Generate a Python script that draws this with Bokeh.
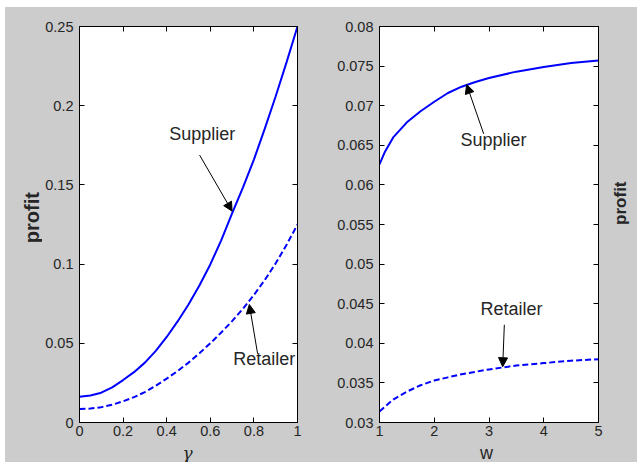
import math

from bokeh.embed import file_html
from bokeh.layouts import column, row
from bokeh.models import (Arrow, CustomJSTickFormatter, FixedTicker, Label,
                          LinearAxis, NormalHead, NumeralTickFormatter,
                          Range1d)
from bokeh.plotting import figure
from bokeh.resources import INLINE

# ---- profit as a function of gamma (left panel) ----
gamma = [0.00, 0.05, 0.10, 0.15, 0.20, 0.25, 0.30, 0.35, 0.40, 0.45, 0.50,
         0.55, 0.60, 0.65, 0.70, 0.75, 0.80, 0.85, 0.90, 0.95, 1.00]
supplier_gamma = [0.0162, 0.0170, 0.0188, 0.0222, 0.0268, 0.0318, 0.0378,
                  0.0452, 0.0540, 0.0638, 0.0745, 0.0865, 0.0998, 0.1150,
                  0.1320, 0.1485, 0.1660, 0.1855, 0.2060, 0.2275, 0.2500]
retailer_gamma = [0.0085, 0.0088, 0.0097, 0.0112, 0.0134, 0.0160, 0.0192,
                  0.0232, 0.0277, 0.0325, 0.0378, 0.0437, 0.0500, 0.0568,
                  0.0640, 0.0718, 0.0805, 0.0900, 0.1005, 0.1122, 0.1250]

# ---- profit as a function of w (right panel) ----
w = [1.0, 1.1, 1.25, 1.5, 1.75, 2.0, 2.25, 2.5, 2.75, 3.0, 3.5, 4.0, 4.5, 5.0]
supplier_w = [0.0626, 0.0642, 0.0660, 0.0679, 0.0693, 0.0705, 0.0716,
              0.0724, 0.0730, 0.0735, 0.0743, 0.0749, 0.0754, 0.0757]
retailer_w = [0.0314, 0.0320, 0.0329, 0.0339, 0.0347, 0.0353, 0.0357,
              0.0361, 0.0364, 0.0367, 0.0372, 0.0375, 0.0378, 0.0380]

gamma_ticks = [0, 0.2, 0.4, 0.6, 0.8, 1.0]
gamma_profit_ticks = [0, 0.05, 0.1, 0.15, 0.2, 0.25]
w_ticks = [1, 2, 3, 4, 5]
w_profit_ticks = [0.03, 0.035, 0.04, 0.045, 0.05, 0.055, 0.06, 0.065, 0.07,
                  0.075, 0.08]

GRAY = "#cccccc"
BLUE = "#0000ff"
INK = "#262626"
FONT = "Liberation Sans"
TICK_SIZE = "14.5px"
PANEL_H = 437
STRIP_H = 462 - 7 - PANEL_H
GRAY_BG = {"background-color": GRAY}


def style_axis(ax, ticks, show_labels, standoff):
    ax.ticker = FixedTicker(ticks=ticks)
    ax.major_tick_in = 5
    ax.major_tick_out = 0
    ax.minor_tick_line_color = None
    ax.axis_line_color = "black"
    ax.major_tick_line_color = "black"
    ax.major_label_standoff = standoff
    ax.major_label_text_font = FONT
    if show_labels:
        ax.formatter = NumeralTickFormatter(format="0.[000]")
        ax.major_label_text_color = INK
        ax.major_label_text_font_size = TICK_SIZE
    else:
        # tick marks only, no numbers on the top and right edges
        ax.formatter = CustomJSTickFormatter(code="return ''")
        ax.major_label_text_color = None


def make_panel(width, border_left, border_right, x_range, y_range,
               x_ticks, y_ticks):
    p = figure(width=width, height=PANEL_H, title=None,
               x_range=Range1d(*x_range), y_range=Range1d(*y_range),
               output_backend="svg", toolbar_location=None,
               min_border_left=border_left, min_border_right=border_right,
               min_border_top=19, min_border_bottom=PANEL_H - 19 - 396,
               border_fill_color=GRAY, background_fill_color="white",
               outline_line_color="black", styles=GRAY_BG)
    p.grid.visible = False
    style_axis(p.below[0], x_ticks, True, 3)
    style_axis(p.left[0], y_ticks, True, 6)
    top = LinearAxis()
    style_axis(top, x_ticks, False, 0)
    p.add_layout(top, "above")
    right = LinearAxis()
    style_axis(right, y_ticks, False, 0)
    p.add_layout(right, "right")
    return p


def make_strip(width, height):
    # plain grey area whose frame is the whole strip; holds an axis title
    s = figure(width=width, height=height, title=None,
               x_range=Range1d(0, width), y_range=Range1d(0, height),
               output_backend="svg", toolbar_location=None,
               x_axis_location=None, y_axis_location=None, min_border=0,
               border_fill_color=GRAY, background_fill_color=GRAY,
               outline_line_color=None, styles=GRAY_BG)
    s.grid.visible = False
    return s


def add_text(p, x, y, text, size, angle=0.0, baseline="alphabetic",
             font=FONT, style="normal"):
    p.add_layout(Label(x=x, y=y, text=text, angle=angle,
                       text_align="center", text_baseline=baseline,
                       text_font=font, text_font_size=size,
                       text_font_style=style, text_color=INK))


def add_arrow(p, x0, y0, x1, y1):
    head = NormalHead(size=9, fill_color="black", line_color="black",
                      line_width=1)
    p.add_layout(Arrow(end=head, x_start=x0, y_start=y0, x_end=x1, y_end=y1,
                       line_color="black", line_width=1))


# ---- left panel: profit vs gamma ----
left = make_panel(278, 35, 23, (0, 1), (0, 0.25),
                  gamma_ticks, gamma_profit_ticks)
left.line(gamma, supplier_gamma, line_color=BLUE, line_width=2)
left.line(gamma, retailer_gamma, line_color=BLUE, line_width=2,
          line_dash="6 3")
add_text(left, 0.563, 0.1824, "Supplier", "18px")
add_arrow(left, 0.551, 0.1688, 0.700, 0.1334)
add_text(left, 0.847, 0.0398, "Retailer", "18px")
add_arrow(left, 0.817, 0.0434, 0.779, 0.0745)

# ---- right panel: profit vs w ----
right = make_panel(288, 59, 10, (1, 5), (0.03, 0.08),
                   w_ticks, w_profit_ticks)
right.line(w, supplier_w, line_color=BLUE, line_width=2)
right.line(w, retailer_w, line_color=BLUE, line_width=2, line_dash="6 3")
add_text(right, 3.082, 0.06563, "Supplier", "18px")
add_arrow(right, 2.903, 0.06644, 2.592, 0.07267)
add_text(right, 3.411, 0.04436, "Retailer", "18px")
add_arrow(right, 3.280, 0.04234, 3.250, 0.03704)

# ---- axis titles ----
left_title = make_strip(37, PANEL_H)
add_text(left_title, 26, PANEL_H - 211, "profit", "20px",
         angle=math.pi / 2, baseline="middle", style="bold")

right_title = make_strip(29, PANEL_H)
add_text(right_title, 12, PANEL_H - 195, "profit", "17px",
         angle=math.pi / 2, baseline="middle", style="bold")

bottom_title = make_strip(632, STRIP_H)
add_text(bottom_title, 182, 10, "γ", "17px", baseline="middle",
         font="DejaVu Serif", style="italic")
add_text(bottom_title, 481, 9.5, "w", "18px", baseline="middle")

panels = row(left_title, left, right, right_title, styles=GRAY_BG)
layout = column(panels, bottom_title, margin=(7, 0, 0, 5), styles=GRAY_BG)
open("out.html", "w").write(file_html(layout, INLINE))
